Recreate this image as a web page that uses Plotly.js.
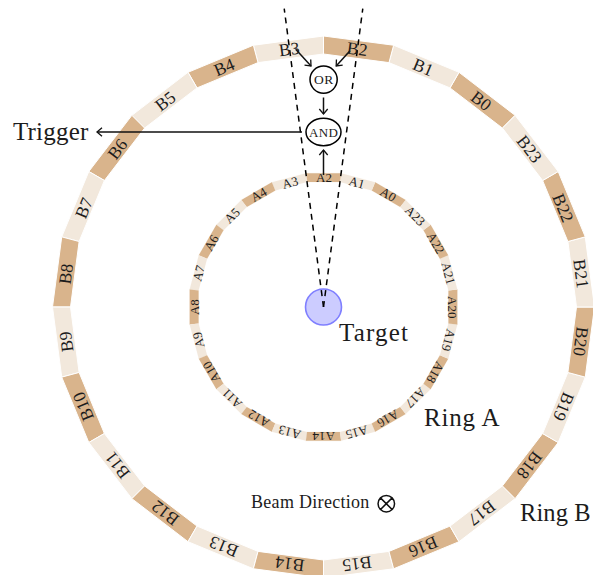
<!DOCTYPE html>
<html><head><meta charset="utf-8">
<script src="https://cdn.plot.ly/plotly-3.0.1.min.js"></script>
<style>html,body{margin:0;padding:0;background:#fff}#c{width:593px;height:575px}</style>
</head><body><div id="c"></div>
<script>
// Ring B: scintillator labels and their centre angles (degrees, counter-clockwise from +x)
const ringBLabels = ["B0","B1","B2","B3","B4","B5","B6","B7","B8","B9","B10","B11","B12","B13","B14","B15","B16","B17","B18","B19","B20","B21","B22","B23"];
const ringBAngles = [52.5,67.5,82.5,97.5,112.5,127.5,142.5,157.5,172.5,187.5,202.5,217.5,232.5,247.5,262.5,277.5,292.5,307.5,322.5,337.5,352.5,7.5,22.5,37.5];
// Ring A
const ringALabels = ["A0","A1","A2","A3","A4","A5","A6","A7","A8","A9","A10","A11","A12","A13","A14","A15","A16","A17","A18","A19","A20","A21","A22","A23"];
const ringAAngles = [60,75,90,105,120,135,150,165,180,195,210,225,240,255,270,285,300,315,330,345,0,15,30,45];
const ringShades = ["dark","light"];
const shade = {dark:"#D9B48C", light:"#F2E8DC"};

const cx = 323.5, cy = 307;
const ringB = {inner:253, outer:271, gap:1, font:17.5};
const ringA = {inner:126, outer:135, gap:0, font:13};

// Dashed acceptance edges (angle in degrees, length)
const acceptanceAngles = [82.5, 97.5];
const acceptanceLength = 301;

// Logic arrows [x0,y0,x1,y1]
const arrows = [[295.7,49.3,311,66],[350,50.7,336.2,66],[323.5,97.5,323.5,114],[323.5,175,323.5,150],[302,132,97,132]];

const rad = d => d*Math.PI/180;
const pt = (r,a) => [cx + r*Math.cos(rad(a)), cy - r*Math.sin(rad(a))];
const traces = [], annotations = [];

function addRing(labels, angles, cfg){
  labels.forEach((lab,i)=>{
    const a = angles[i], n = parseInt(lab.slice(1),10);
    const c = shade[ringShades[n%2]];
    const p = [pt(cfg.outer,a-7.5),pt(cfg.outer,a+7.5),pt(cfg.inner,a+7.5),pt(cfg.inner,a-7.5)];
    traces.push({type:"scatter",mode:"lines",x:[...p.map(q=>q[0]),p[0][0]],y:[...p.map(q=>q[1]),p[0][1]],
      fill:"toself",fillcolor:c,line:{color:cfg.gap?"#ffffff":c,width:cfg.gap||0.1},hoverinfo:"skip"});
    const m = pt((cfg.inner+cfg.outer)/2*Math.cos(rad(7.5)),a);
    annotations.push({x:m[0],y:m[1],xref:"x",yref:"y",text:lab,showarrow:false,xanchor:"center",yanchor:"middle",
      textangle:90-a,font:{family:"Liberation Serif",size:cfg.font,color:"#1c1c1c"}});
  });
}
addRing(ringBLabels,ringBAngles,ringB);
addRing(ringALabels,ringAAngles,ringA);

acceptanceAngles.forEach(a=>{
  const e = pt(acceptanceLength,a);
  traces.push({type:"scatter",mode:"lines",x:[cx,e[0]],y:[cy,e[1]],line:{color:"#000",width:1.5,dash:"6px,5px"},hoverinfo:"skip"});
});

arrows.forEach(([x0,y0,x1,y1])=>{
  const L = Math.hypot(x1-x0,y1-y0), ux=(x1-x0)/L, uy=(y1-y0)/L, b=5, w=4.2;
  traces.push({type:"scatter",mode:"lines",x:[x0,x1],y:[y0,y1],line:{color:"#111",width:1.5},hoverinfo:"skip"});
  traces.push({type:"scatter",mode:"lines",
    x:[x1-ux*b-uy*w,x1,x1-ux*b+uy*w],y:[y1-uy*b+ux*w,y1,y1-uy*b-ux*w],
    line:{color:"#111",width:1.3},hoverinfo:"skip"});
});

// Beam direction marker
traces.push({type:"scatter",mode:"markers",x:[386.3],y:[503.7],
  marker:{symbol:"circle-x-open",size:16.5,color:"#111",line:{width:1.5,color:"#111"}},hoverinfo:"skip"});

const shapes = [
  {type:"circle",layer:"below",xref:"x",yref:"y",x0:cx-18,x1:cx+18,y0:cy-18,y1:cy+18,fillcolor:"#CCCCFF",line:{color:"#7F7FFF",width:1.6}},
  {type:"circle",xref:"x",yref:"y",x0:310,x1:337.2,y0:66,y1:93.2,fillcolor:"#fff",line:{color:"#000",width:1.5}},
  {type:"circle",xref:"x",yref:"y",x0:306,x1:341,y0:118.3,y1:145.7,fillcolor:"#fff",line:{color:"#000",width:1.5}}
];

const texts = [
  ["OR",323.6,79.5,13.5,"center",0.4],["AND",323.5,132,13,"center",0.3],
  ["Trigger",11,131,25,"left",0.2],["Target",337,332,25,"left",1.2],
  ["Ring A",422,417,25,"left",0.8],["Ring B",518,512,24.5,"left",0.1],
  ["Beam Direction",249,502,18,"left",0.3]
];
texts.forEach(([t,x,y,s,al,sp])=>annotations.push({x,y,xref:"x",yref:"y",
  text:'<span style="letter-spacing:'+sp+'px">'+t+'</span>',showarrow:false,xanchor:al,yanchor:"middle",
  font:{family:"Liberation Serif",size:s,color:"#1c1c1c"}}));

Plotly.newPlot("c",traces,{
  width:593,height:575,margin:{l:0,r:0,t:0,b:0},showlegend:false,
  paper_bgcolor:"#fff",plot_bgcolor:"#fff",
  xaxis:{range:[0,593],visible:false,fixedrange:true},
  yaxis:{range:[575,0],visible:false,fixedrange:true},
  shapes,annotations
},{staticPlot:true,displayModeBar:false});
</script></body></html>
